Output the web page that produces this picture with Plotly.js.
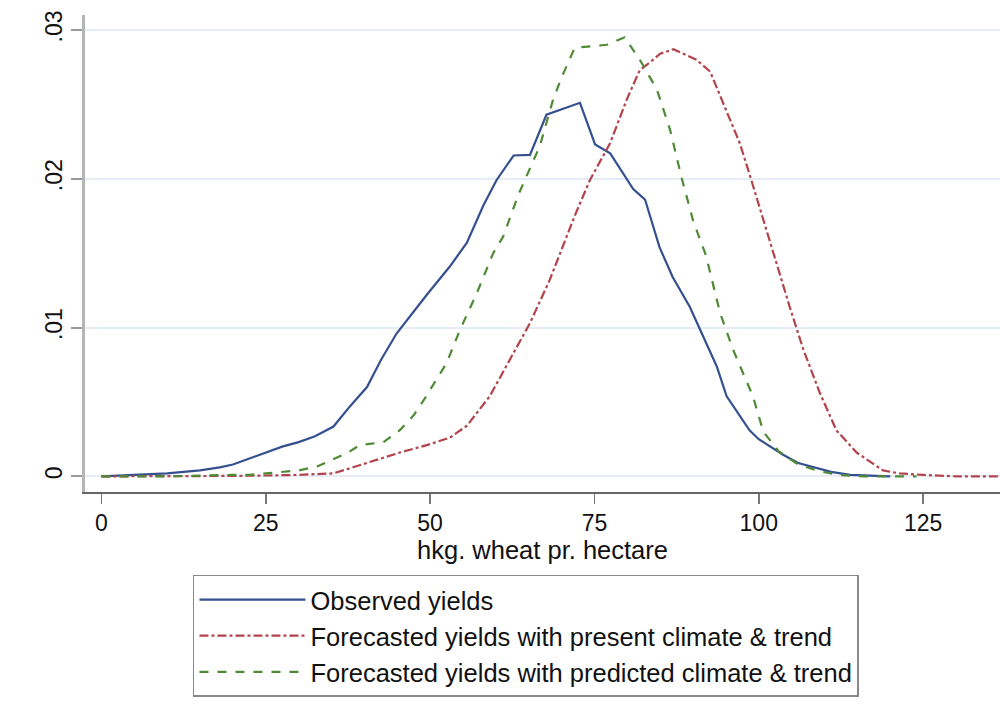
<!DOCTYPE html>
<html>
<head>
<meta charset="utf-8">
<script src="https://cdn.plot.ly/plotly-3.0.1.min.js"></script>
<style>html,body{margin:0;padding:0;background:#fff;}#chart{width:1000px;height:722px;}</style>
</head>
<body>
<div id="chart"></div>
<script>
// Observed yields (blue solid)
const obsX = [0, 5, 10, 15, 18, 20, 22.5, 25, 27.5, 30, 32.5, 35.3, 37.8, 40.4, 42.5, 44.9, 47.5, 49.5, 53, 55.6, 58.1, 60.1, 62.7, 65.2, 67.7, 72.8, 75.1, 77.4, 80.9, 82.7, 84.9, 86.9, 89.5, 91.5, 93.6, 95.1, 98.6, 100, 103.7, 106, 108.8, 111, 113.9, 117, 120];
const obsY = [0.0000, 0.0001, 0.0002, 0.0004, 0.0006, 0.0008, 0.0012, 0.0016, 0.0020, 0.0023, 0.0027, 0.00335, 0.0047, 0.0060, 0.0078, 0.0096, 0.0111, 0.0122, 0.0141, 0.0157, 0.0182, 0.0199, 0.02156, 0.0216, 0.0243, 0.0251, 0.0223, 0.0217, 0.0193, 0.0186, 0.0154, 0.0134, 0.0114, 0.0094, 0.0074, 0.0054, 0.0031, 0.0025, 0.00145, 0.0009, 0.00055, 0.0003, 0.0001, 0.00003, 0.0000];

// Forecasted yields with present climate & trend (red dash-dot)
const presX = [0, 10, 20, 25, 30, 35.3, 40.4, 45.4, 49.5, 53, 55.6, 59.1, 62.7, 65.2, 68.2, 69.8, 72, 74.3, 77.4, 79.9, 81.9, 83.4, 85, 87, 90.5, 92.6, 95.1, 97.1, 98.6, 100.7, 102.7, 104.7, 106.8, 109.3, 111.8, 114.9, 118.9, 121.4, 125, 130, 137];
const presY = [0.0000, 0.0000, 0.00003, 0.00006, 0.0001, 0.0002, 0.0009, 0.0016, 0.0021, 0.0026, 0.0034, 0.0054, 0.0083, 0.0103, 0.0132, 0.0150, 0.0175, 0.0199, 0.0224, 0.0253, 0.0273, 0.0278, 0.0284, 0.0287, 0.0280, 0.0272, 0.0246, 0.0224, 0.0203, 0.0172, 0.0143, 0.0114, 0.0085, 0.0056, 0.0031, 0.0016, 0.0004, 0.0002, 0.0001, 0.0000, 0.0000];

// Forecasted yields with predicted climate & trend (green dashed)
const predX = [0, 10, 20, 22.5, 25, 27.5, 30, 32.8, 35, 37.5, 39.3, 42.9, 45.4, 47.5, 49, 52.5, 54.5, 57.1, 59.6, 61.1, 63.5, 66.7, 68.7, 70, 72, 74.3, 76.9, 79.6, 81.9, 84.5, 86.5, 88.3, 90, 92, 94.1, 96.1, 99.1, 100.7, 103, 106, 108.8, 112, 116, 124];
const predY = [0.0000, 0.0000, 0.0001, 0.0001, 0.0002, 0.0003, 0.0004, 0.00066, 0.0011, 0.0016, 0.0021, 0.0023, 0.0031, 0.0041, 0.0051, 0.0076, 0.0098, 0.0123, 0.0150, 0.0161, 0.0190, 0.0222, 0.0253, 0.0268, 0.0288, 0.0289, 0.0290, 0.0295, 0.0280, 0.0260, 0.0233, 0.0200, 0.0172, 0.0148, 0.0110, 0.0085, 0.0054, 0.0030, 0.0017, 0.0008, 0.0004, 0.0001, 0.0000, 0.0000];

const xTickVals = [0, 25, 50, 75, 100, 125];
const xTickText = ["0", "25", "50", "75", "100", "125"];
const yTickVals = [0, 0.01, 0.02, 0.03];
const yTickText = ["0", ".01", ".02", ".03"];

const seriesNames = ["Observed yields", "Forecasted yields with present climate & trend", "Forecasted yields with predicted climate & trend"];

const FONT = "Liberation Sans, Arial, Helvetica, sans-serif";

const traces = [
  {x: obsX, y: obsY, name: seriesNames[0], type: "scatter", mode: "lines", legendgroup: "a",
   line: {color: "#35508f", width: 2.2, dash: "solid"}},
  {x: presX, y: presY, name: seriesNames[1], type: "scatter", mode: "lines", legendgroup: "b",
   line: {color: "#b3434c", width: 2.2, dash: "dashdot"}},
  {x: predX, y: predY, name: seriesNames[2], type: "scatter", mode: "lines", legendgroup: "c",
   line: {color: "#4f8a34", width: 2.2, dash: "dash"}}
];

const layout = {
  width: 1000, height: 722,
  margin: {l: 85, r: 0, t: 15, b: 230},
  paper_bgcolor: "#ffffff", plot_bgcolor: "#ffffff",
  font: {family: FONT, color: "#111"},
  showlegend: true,
  xaxis: {
    range: [-2.5, 136.7], tickmode: "array", tickvals: xTickVals, ticktext: xTickText,
    showgrid: false, zeroline: false, showline: true, linecolor: "#666", linewidth: 1.5,
    ticks: "outside", ticklen: 10, tickwidth: 1.5, tickcolor: "#777",
    tickfont: {family: FONT, size: 23, color: "#111"},
    title: {text: "hkg. wheat pr. hectare", font: {family: FONT, size: 25.5, color: "#111"}, standoff: 4}
  },
  yaxis: {
    range: [-0.00105, 0.0310], tickmode: "array", tickvals: yTickVals, ticktext: yTickText,
    tickangle: -90, showgrid: true, gridcolor: "#e6ecf5", gridwidth: 2, zeroline: false,
    showline: true, linecolor: "#b5b5b5", linewidth: 3,
    ticks: "outside", ticklen: 11, tickwidth: 2, tickcolor: "#999",
    tickfont: {family: FONT, size: 23, color: "#111"}
  },
  legend: {
    x: 0.118, xanchor: "left", y: -0.174, yanchor: "top",
    bgcolor: "#ffffff", bordercolor: "#888", borderwidth: 1.5,
    font: {family: FONT, size: 25.5, color: "#111"},
    itemwidth: 106, tracegroupgap: 0, orientation: "v"
  }
};

Plotly.newPlot("chart", traces, layout, {displayModeBar: false, staticPlot: true});
</script>
</body>
</html>
